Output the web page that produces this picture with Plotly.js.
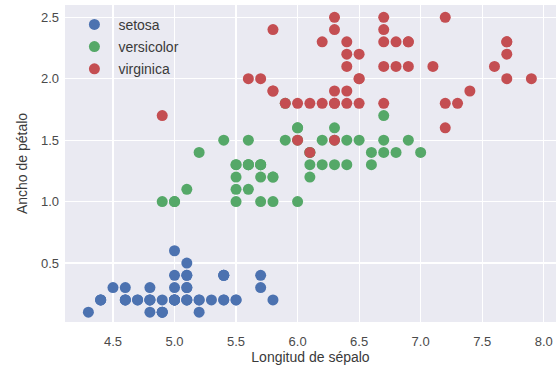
<!DOCTYPE html>
<html>
<head>
<meta charset="utf-8">
<script src="https://cdn.plot.ly/plotly-3.0.1.min.js"></script>
<style>html,body{margin:0;padding:0;background:#fff;}#chart{width:556px;height:373px;}</style>
</head>
<body>
<div id="chart"></div>
<script>
// Iris: sepal length (cm) vs petal width (cm), by species
const setosaSepalLength = [5.1,4.9,4.7,4.6,5.0,5.4,4.6,5.0,4.4,4.9,5.4,4.8,4.8,4.3,5.8,5.7,5.4,5.1,5.7,5.1,5.4,5.1,4.6,5.1,4.8,5.0,5.0,5.2,5.2,4.7,4.8,5.4,5.2,5.5,4.9,5.0,5.5,4.9,4.4,5.1,5.0,4.5,4.4,5.0,5.1,4.8,5.1,4.6,5.3,5.0];
const setosaPetalWidth = [0.2,0.2,0.2,0.2,0.2,0.4,0.3,0.2,0.2,0.1,0.2,0.2,0.1,0.1,0.2,0.4,0.4,0.3,0.3,0.3,0.2,0.4,0.2,0.5,0.2,0.2,0.4,0.2,0.2,0.2,0.2,0.4,0.1,0.2,0.1,0.2,0.2,0.1,0.2,0.2,0.3,0.3,0.2,0.6,0.4,0.3,0.2,0.2,0.2,0.2];

const versicolorSepalLength = [7.0,6.4,6.9,5.5,6.5,5.7,6.3,4.9,6.6,5.2,5.0,5.9,6.0,6.1,5.6,6.7,5.6,5.8,6.2,5.6,5.9,6.1,6.3,6.1,6.4,6.6,6.8,6.7,6.0,5.7,5.5,5.5,5.8,6.0,5.4,6.0,6.7,6.3,5.6,5.5,5.5,6.1,5.8,5.0,5.6,5.7,5.7,6.2,5.1,5.7];
const versicolorPetalWidth = [1.4,1.5,1.5,1.3,1.5,1.3,1.6,1.0,1.3,1.4,1.0,1.5,1.0,1.4,1.3,1.4,1.5,1.0,1.5,1.1,1.8,1.3,1.5,1.2,1.3,1.4,1.4,1.7,1.5,1.0,1.1,1.0,1.2,1.6,1.5,1.6,1.5,1.3,1.3,1.3,1.2,1.4,1.2,1.0,1.3,1.2,1.3,1.3,1.1,1.3];

const virginicaSepalLength = [6.3,5.8,7.1,6.3,6.5,7.6,4.9,7.3,6.7,7.2,6.5,6.4,6.8,5.7,5.8,6.4,6.5,7.7,7.7,6.0,6.9,5.6,7.7,6.3,6.7,7.2,6.2,6.1,6.4,7.2,7.4,7.9,6.4,6.3,6.1,7.7,6.3,6.4,6.0,6.9,6.7,6.9,5.8,6.8,6.7,6.7,6.3,6.5,6.2,5.9];
const virginicaPetalWidth = [2.5,1.9,2.1,1.8,2.2,2.1,1.7,1.8,1.8,2.5,2.0,1.9,2.1,2.0,2.4,2.3,1.8,2.2,2.3,1.5,2.3,2.0,2.0,1.8,2.1,1.8,1.8,1.8,2.1,1.6,1.9,2.0,2.2,1.5,1.4,2.3,2.4,1.8,1.8,2.1,2.4,2.3,1.9,2.3,2.5,2.3,1.9,2.0,2.3,1.8];

const speciesNames = ['setosa', 'versicolor', 'virginica'];
const speciesColors = ['#4C72B0', '#55A868', '#C44E52'];
const xTicks = [4.5, 5.0, 5.5, 6.0, 6.5, 7.0, 7.5, 8.0];
const yTicks = [0.5, 1.0, 1.5, 2.0, 2.5];

const xs = [setosaSepalLength, versicolorSepalLength, virginicaSepalLength];
const ys = [setosaPetalWidth, versicolorPetalWidth, virginicaPetalWidth];

const traces = speciesNames.map((name, i) => ({
  type: 'scatter',
  mode: 'markers',
  name: name,
  legendgroup: name,
  x: xs[i],
  y: ys[i],
  marker: {color: speciesColors[i], size: 11, line: {width: 0}}
}));

const fontFam = '"Liberation Sans", Arial, sans-serif';

const layout = {
  width: 556,
  height: 373,
  margin: {l: 65, r: 0, t: 5, b: 51},
  paper_bgcolor: '#ffffff',
  plot_bgcolor: '#EAEAF2',
  font: {family: fontFam, size: 13, color: '#3a3a3a'},
  showlegend: true,
  legend: {
    x: 0.011, y: 0.988, xanchor: 'left', yanchor: 'top',
    bgcolor: 'rgba(0,0,0,0)',
    font: {family: fontFam, size: 14, color: '#3a3a3a'},
    traceorder: 'grouped',
    tracegroupgap: 1,
    itemwidth: 38
  },
  xaxis: {
    range: [4.11, 8.10],
    tickvals: xTicks,
    ticktext: xTicks.map(v => v.toFixed(1)),
    showgrid: true, gridcolor: '#ffffff', gridwidth: 1.2,
    zeroline: false, showline: false, ticks: '',
    ticklabelstandoff: 10,
    tickfont: {family: fontFam, size: 13, color: '#4a4a4a'},
    title: {text: 'Longitud de sépalo', font: {family: fontFam, size: 14, color: '#3a3a3a'}, standoff: 4}
  },
  yaxis: {
    range: [0.02, 2.60],
    tickvals: yTicks,
    ticktext: yTicks.map(v => v.toFixed(1)),
    showgrid: true, gridcolor: '#ffffff', gridwidth: 1.2,
    zeroline: false, showline: false, ticks: '',
    ticklabelstandoff: 5,
    tickfont: {family: fontFam, size: 13, color: '#4a4a4a'},
    title: {text: 'Ancho de pétalo', font: {family: fontFam, size: 14, color: '#3a3a3a'}, standoff: 10}
  }
};

Plotly.newPlot('chart', traces, layout, {displayModeBar: false, staticPlot: true});
</script>
</body>
</html>
